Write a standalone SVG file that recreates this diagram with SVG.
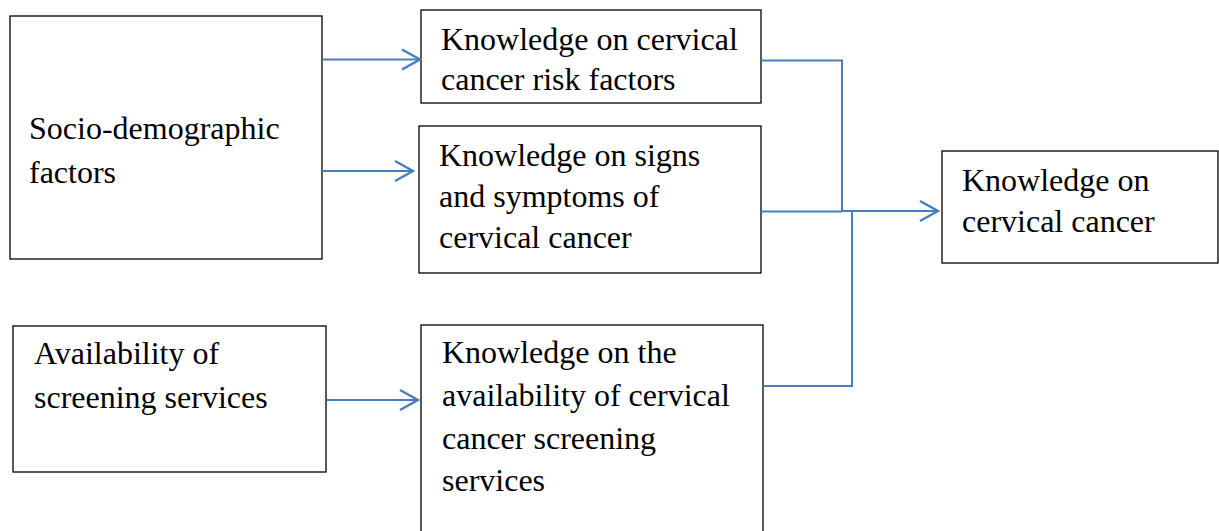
<svg xmlns="http://www.w3.org/2000/svg" width="1219" height="531" viewBox="0 0 1219 531">
<style>
.box{fill:#fff;stroke:#000;stroke-width:1.3}
.t{font-family:"Liberation Serif","Times New Roman",serif;font-size:32px;fill:#000}
.c{fill:none;stroke:#4A7EBB;stroke-width:2}
</style>
<defs>
<marker id="ah" markerUnits="userSpaceOnUse" viewBox="-20 -12 22 24" markerWidth="22" markerHeight="24" refX="0" refY="0" orient="auto">
<polyline points="-18,-10 0,0 -18,10" fill="none" stroke="#4A7EBB" stroke-width="2.5"/>
</marker>
</defs>
<rect width="1219" height="531" fill="#fff"/>
<g id="n-socio"><rect class="box" x="10" y="16" width="312" height="243"/>
<text class="t" x="29" y="139">Socio-demographic</text><text class="t" x="29" y="183">factors</text></g>
<g id="n-risk"><rect class="box" x="421" y="10" width="340" height="93"/>
<text class="t" x="441" y="50">Knowledge on cervical</text><text class="t" x="441" y="90">cancer risk factors</text></g>
<g id="n-signs"><rect class="box" x="419" y="126" width="342" height="147"/>
<text class="t" x="439" y="166">Knowledge on signs</text><text class="t" x="439" y="207">and symptoms of</text><text class="t" x="439" y="248">cervical cancer</text></g>
<g id="n-knowledge"><rect class="box" x="942" y="151" width="276" height="112"/>
<text class="t" x="962" y="191">Knowledge on</text><text class="t" x="962" y="232">cervical cancer</text></g>
<g id="n-avail"><rect class="box" x="13" y="326" width="313" height="146"/>
<text class="t" x="34" y="364">Availability of</text><text class="t" x="34" y="408">screening services</text></g>
<g id="n-screen"><rect class="box" x="421" y="325" width="342" height="220"/>
<text class="t" x="442" y="363">Knowledge on the</text><text class="t" x="442" y="406">availability of cervical</text><text class="t" x="442" y="449">cancer screening</text><text class="t" x="442" y="491">services</text></g>
<g id="connectors">
<line class="c" x1="322" y1="59.5" x2="420" y2="59.5" marker-end="url(#ah)"/>
<line class="c" x1="322" y1="171" x2="413" y2="171" marker-end="url(#ah)"/>
<line class="c" x1="327" y1="400" x2="418" y2="400" marker-end="url(#ah)"/>
<polyline class="c" points="761,60.5 842,60.5 842,211"/>
<line class="c" x1="761" y1="211.5" x2="842" y2="211.5"/>
<polyline class="c" points="763,386 852,386 852,211"/>
<line class="c" x1="842" y1="211" x2="938" y2="211" stroke-width="3" marker-end="url(#ah)"/>
</g>
</svg>
